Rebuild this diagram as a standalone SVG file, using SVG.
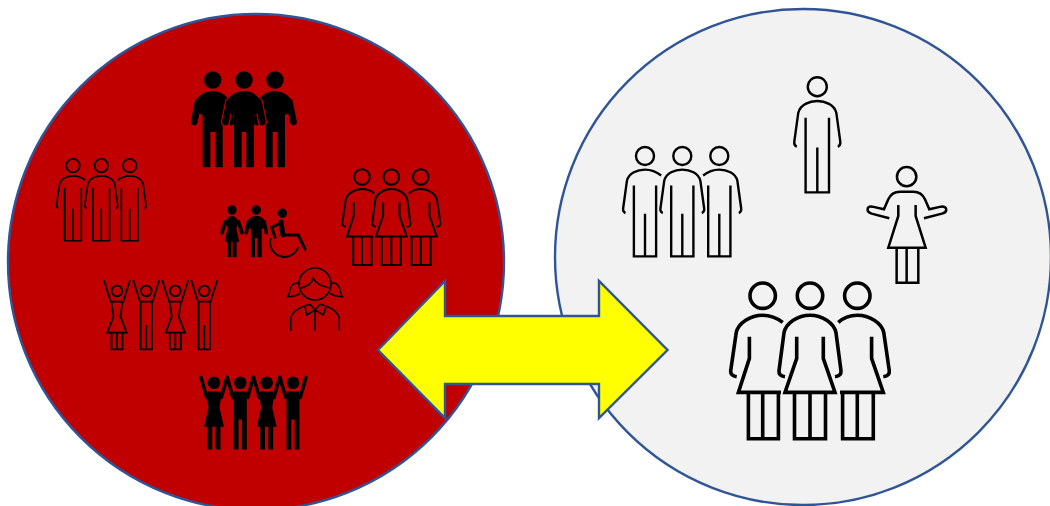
<svg xmlns="http://www.w3.org/2000/svg" width="1050" height="506" viewBox="0 0 1050 506">
<style>
.ln{fill:none;stroke:#000;stroke-linecap:butt;stroke-linejoin:miter}
.fl{fill:#000;stroke:none}
.arm{fill:none;stroke:#000;stroke-linecap:round;stroke-linejoin:round}
.halo{fill:none;stroke:#c00000;stroke-linecap:round;stroke-linejoin:round}
.ring{stroke:#2f5597;stroke-width:2.400}
</style>
<defs>
<g id="mL"><circle cx="0" cy="0" r="9.500"/><path d="M-20.500 60Q-23.500 59-23 55L-19 26C-17 18-8 14.300 0 14.300C6 14.300 12 16.500 17 20.500M-11.700 31V105.700H11.700V31M0 60.700V105.700"/></g>
<g id="mC"><circle cx="0" cy="0" r="9.500"/><path d="M-20.500 60Q-23.500 59-23 55L-19 26C-17 18-8 14.300 0 14.300C8 14.300 17 18 19 26L23 55Q23.500 59 20.500 60M-11.700 31V105.700H11.700V31M0 60.700V105.700"/></g>
<g id="mR"><circle cx="0" cy="0" r="9.500"/><path d="M20.500 60Q23.500 59 23 55L19 26C17 18 8 14.300 0 14.300C-6 14.300-12 16.500-17 20.500M-11.700 31V105.700H11.700V31M0 60.700V105.700"/></g>
<g id="wL"><circle cx="0" cy="0" r="12.700"/><path d="M-26 81Q-32.500 80-32 75L-26.500 37C-24.500 27-12 19.500 0 19.500C7 19.500 14 22 20 26.700M-13.300 41V62.700L-24.300 96.700H18.300M-14.300 96.700V143H15.700V96.700M0 96.700V143"/></g>
<g id="wC"><circle cx="0" cy="0" r="12.700"/><path d="M-25 81Q-31.500 80-31 75L-26 37C-24 27-12 19.500 0 19.500C12 19.500 24 27 26 37L31 75Q31.500 80 25 81M-13.300 41V62.700L-25 96.700H25L13.300 62.700V41M-15.500 96.700V143H15.500V96.700M0 96.700V143"/></g>
<g id="wR"><circle cx="0" cy="0" r="12.700"/><path d="M26 81Q32.500 80 32 75L26.500 37C24.500 27 12 19.500 0 19.500C-7 19.500-14 22-19 26.700M14.300 41V62.700L26 96.700H-17.300M-14.700 96.700V143H16V96.700M0 96.700V143"/></g>
<g id="fm"><circle class="fl" cx="0" cy="0" r="8.700"/><path class="fl" d="M-10 87.300V35L-14 33L-17.500 24C-16 16-8 11 0 11C8 11 16 16 17.500 24L14 33L10 35V87.300H2.300V52H-2.300V87.300Z"/><path class="arm" stroke-width="6.700" d="M-14.500 22L-18.500 42M14.500 22L18.500 42"/></g>
<g id="fw"><circle class="fl" cx="0" cy="0" r="8.700"/><path class="fl" d="M-8 34L-13.500 58.700H-8.600V87.300H-1.200V58.700H1.200V87.300H8.600V58.700H13.500L8 34L11 26C13 18 6 11 0 11C-6 11-13 18-11 26Z"/><path class="arm" stroke-width="6.700" d="M-12 22L-18.500 42M12 22L18.500 42"/></g>
<g id="rw" class="ln" stroke-width="1.800"><circle cx="0" cy="0" r="5.300"/><path d="M-13 -11L-6.300 10.700H6.300L13 -11M-5.500 11L-3.500 25.700L-9.700 41.700H9.700L3.500 25.700L5.500 11M-5.500 41.700V58.300H5.500V41.700M0 41.700V58.300"/></g>
<g id="rm" class="ln" stroke-width="1.800"><circle cx="0" cy="0" r="5.300"/><path d="M-13 -11L-6.300 10.700H6.300L13 -11M-5.700 11V58.300H5.700V11M0 34V58.300"/></g>
<g id="kw"><circle class="fl" cx="0" cy="0" r="6.300"/><path class="arm" stroke-width="3.500" d="M-13 -5.300L-7.300 14.700M13 -5.300L7.300 14.700"/><path class="fl" d="M-6.500 8.700H6.500L7 15L5.500 25L10 44H6.500V66.700H1.700V44H-1.700V66.700H-6.500V44H-10L-5.500 25L-7 15Z"/></g>
<g id="km"><circle class="fl" cx="0" cy="0" r="6.300"/><path class="arm" stroke-width="3.500" d="M-13 -5.300L-7.300 14.700M13 -5.300L7.300 14.700"/><path class="fl" d="M-6.500 8.700H6.500V66.700H1.700V36.700H-1.700V66.700H-6.500Z"/></g>
</defs>

<g id="circle-left"><circle class="ring" cx="256" cy="262" r="248" fill="#c00000"/></g>
<g id="circle-right"><circle class="ring" cx="803" cy="257" r="248" fill="#f2f2f2"/></g>

<g id="filled-men">
<use href="#fm" x="212.700" y="80"/><use href="#fm" x="275" y="80"/>
<path class="halo" stroke-width="9" d="M229.500 102L225.500 122M258.500 102L262.500 122"/>
<use href="#fm" x="244" y="80"/>
</g>

<g id="outline-men-red" class="ln" stroke-width="2.400">
<use href="#mL" transform="translate(73 165.700) scale(.71)"/>
<use href="#mR" transform="translate(129.700 165.700) scale(.71)"/>
<use href="#mC" transform="translate(101.300 165.700) scale(.71)"/>
</g>

<g id="outline-women-red" class="ln" stroke-width="3.300">
<use href="#wL" transform="translate(362 177) scale(.615)"/>
<use href="#wR" transform="translate(420.700 177) scale(.615)"/>
<use href="#wC" transform="translate(391.300 177) scale(.615)"/>
</g>

<g id="family">
<use href="#fw" transform="translate(232 210) scale(.54)"/>
<use href="#fm" transform="translate(256.300 210) scale(.54)"/>
<circle class="fl" cx="282.300" cy="213.300" r="4.700"/>
<path class="arm" stroke-width="5" d="M281 222L283 235"/>
<path class="arm" stroke-width="3" d="M281 223L271.700 227.300L275 237.300M283 235H298.300L305 249"/>
<path class="ln" stroke-width="2" d="M270.700 238.300A14.300 14.300 0 0 0 298.300 246.700"/>
</g>

<g id="raised-outline">
<use href="#rw" x="117" y="291"/><use href="#rm" x="146.300" y="291"/><use href="#rw" x="175.300" y="291"/><use href="#rm" x="204.300" y="291"/>
</g>

<g id="girl" class="ln" stroke-width="1.600">
<circle cx="315" cy="284" r="16"/>
<path d="M299.300 288.300C306 287 312 284 313.300 278.300C316 285 324 287 330.700 288.300"/>
<path d="M300 284C296 281.500 292 284 290.500 288C289.500 292 289 295 287.700 296.700C292 296.500 297 295.500 300 293.300"/>
<path d="M330 284C334 281.500 338 284 339.500 288C340.500 292 341 295 342.300 296.700C338 296.500 333 295.500 330 293.300"/>
<path d="M290.700 330.700V320C290.700 312 300 307 310 304.300M339.300 330.700V320C339.300 312 330 307 320 304.300M315 310V330.700"/>
<path d="M305 306.700L306.700 315L315 310L323.300 315L326 306.700M310 304.300L315 310L320 304.300"/>
</g>

<g id="raised-filled">
<use href="#kw" x="214" y="382.700"/><use href="#km" x="240.300" y="382.700"/><use href="#kw" x="266.700" y="382.700"/><use href="#km" x="293" y="382.700"/>
</g>

<g id="connectors">
<path id="double-arrow" d="M378 350L445 281V316H599V281L667.500 350L599 418V384H445V418Z" fill="#ffff00" stroke="#2f5597" stroke-width="2.400" stroke-linejoin="miter"/>
</g>

<g id="man-single" class="ln" stroke-width="2.400"><use href="#mC" x="817.300" y="86.700"/></g>

<g id="men-trio" class="ln" stroke-width="2.500">
<use href="#mL" transform="translate(645 156) scale(.95)"/>
<use href="#mR" transform="translate(719.300 156) scale(.95)"/>
<use href="#mC" transform="translate(682.300 156) scale(.95)"/>
</g>

<g id="woman-arms-out" class="ln" stroke-width="7.500" transform="translate(610 70) scale(.3333)">
<circle cx="890" cy="320" r="29"/>
<path d="M838 445L785 431C767 425 770 408 787 410L822 418L835 388Q845 365 870 365H910Q935 365 945 388L958 418L993 410C1012 407 1015 426 996 431L942 445"/>
<path d="M865 405V438L835 533H947L917 438V405M860 533V638H925V533M890 533V638"/>
</g>

<g id="women-trio" class="ln" stroke-width="3.600">
<use href="#wL" x="762.700" y="295.700"/>
<use href="#wR" x="857.300" y="295.700"/>
<use href="#wC" x="810" y="295.700"/>
</g>
</svg>
